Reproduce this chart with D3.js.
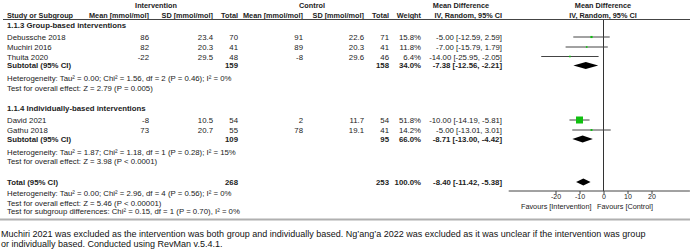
<!DOCTYPE html>
<html>
<head>
<meta charset="utf-8">
<script src="https://cdn.jsdelivr.net/npm/d3@7"></script>
<style>
  body { margin: 0; background: #fff; }
  svg { font-family: "Liberation Sans", Arial, sans-serif; }
</style>
</head>
<body>
<div id="chart"></div>
<script>
// --- Données ---
const studies = ["Debussche 2018", "Muchiri 2016", "Thuita 2020", "David 2021", "Gathu 2018"];
const studyGroup = [0, 0, 0, 1, 1];
const intMean = [86, 82, -22, -8, 73];
const intSD = [23.4, 20.3, 29.5, 10.5, 20.7];
const intN = [70, 41, 48, 54, 55];
const ctlMean = [91, 89, -8, 2, 78];
const ctlSD = [22.6, 20.3, 29.6, 11.7, 19.1];
const ctlN = [71, 41, 46, 54, 41];
const weights = [15.8, 11.8, 6.4, 51.8, 14.2];
const md = [-5.00, -7.00, -14.00, -10.00, -5.00];
const mdLo = [-12.59, -15.79, -25.95, -14.19, -13.01];
const mdHi = [2.59, 1.79, -2.05, -5.81, 3.01];

const groupNames = ["1.1.3 Group-based interventions", "1.1.4 Individually-based interventions"];
const subIntN = [159, 109];
const subCtlN = [158, 95];
const subWeight = [34.0, 66.0];
const subMd = [-7.38, -8.71];
const subLo = [-12.56, -13.00];
const subHi = [-2.21, -4.42];
const subHet = [
  "Heterogeneity: Tau\u00b2 = 0.00; Chi\u00b2 = 1.56, df = 2 (P = 0.46); I\u00b2 = 0%",
  "Heterogeneity: Tau\u00b2 = 1.87; Chi\u00b2 = 1.18, df = 1 (P = 0.28); I\u00b2 = 15%"
];
const subTest = ["Test for overall effect: Z = 2.79 (P = 0.005)", "Test for overall effect: Z = 3.98 (P < 0.0001)"];

const total = { intN: 268, ctlN: 253, md: -8.40, lo: -11.42, hi: -5.38 };
const totalNotes = [
  "Heterogeneity: Tau\u00b2 = 0.00; Chi\u00b2 = 2.96, df = 4 (P = 0.56); I\u00b2 = 0%",
  "Test for overall effect: Z = 5.46 (P < 0.00001)",
  "Test for subgroup differences: Chi\u00b2 = 0.15, df = 1 (P = 0.70), I\u00b2 = 0%"
];
const tickValues = [-20, -10, 0, 10, 20];
const footnote = [
  "Muchiri 2021 was excluded as the intervention was both group and individually based. Ng\u2019ang\u2019a 2022 was excluded as it was unclear if the intervention was group",
  "or individually based. Conducted using RevMan v.5.4.1."
];

// --- SVG ---
const width = 690, height = 249;
const fs = 7.8;
const svg = d3.select("#chart").append("svg")
  .attr("width", width).attr("height", height);

const fmt2 = d3.format(".2f");
const num = v => fmt2(v).replace("\u2212", "-");
const ciText = (m, l, h) => `${num(m)} [${num(l)}, ${num(h)}]`;

// colonnes (bord droit)
const col = { study: 7, iMean: 149, iSD: 213, iN: 238, cMean: 303, cSD: 364, cN: 389, w: 421, ci: 502 };

function txt(x, y, s, opts = {}) {
  return svg.append("text")
    .attr("x", x).attr("y", y)
    .attr("font-size", opts.size || fs)
    .attr("font-weight", opts.bold ? "bold" : "normal")
    .attr("text-anchor", opts.anchor || "end")
    .attr("fill", opts.fill || "#222")
    .text(s);
}

// --- En-têtes ---
const hs = 7.3;
txt(156, 8, "Intervention", { bold: true, anchor: "middle", size: hs });
txt(312, 8, "Control", { bold: true, anchor: "middle", size: hs });
txt(461, 8, "Mean Difference", { bold: true, anchor: "middle", size: hs });
txt(603, 8, "Mean Difference", { bold: true, anchor: "middle", size: hs });
txt(col.study, 17.5, "Study or Subgroup", { bold: true, anchor: "start", size: hs });
txt(col.iMean, 17.5, "Mean [mmol/mol]", { bold: true, size: hs });
txt(col.iSD, 17.5, "SD [mmol/mol]", { bold: true, size: hs });
txt(col.iN, 17.5, "Total", { bold: true, size: hs });
txt(col.cMean, 17.5, "Mean [mmol/mol]", { bold: true, size: hs });
txt(col.cSD, 17.5, "SD [mmol/mol]", { bold: true, size: hs });
txt(col.cN, 17.5, "Total", { bold: true, size: hs });
txt(col.w, 17.5, "Weight", { bold: true, size: hs });
txt(col.ci, 17.5, "IV, Random, 95% CI", { bold: true, size: hs });
txt(603, 17.5, "IV, Random, 95% CI", { bold: true, anchor: "middle", size: hs });

svg.append("line").attr("x1", 3).attr("x2", width).attr("y1", 19.5).attr("y2", 19.5)
  .attr("stroke", "#444").attr("stroke-width", 1);

// --- Echelle ---
const x = d3.scaleLinear().domain([-20, 20]).range([555.5, 651.5]);
const axisY = 191;

// ligne zéro
svg.append("line")
  .attr("x1", x(0)).attr("x2", x(0)).attr("y1", 20).attr("y2", axisY)
  .attr("stroke", "#333").attr("stroke-width", 1);

// positions des lignes
const groupLayout = [
  { head: 27.5, rows: [40, 50, 59.5], sub: 68, het: 80.5, test: 91 },
  { head: 111, rows: [123, 133], sub: 141.5, het: 154.5, test: 164 }
];

function diamond(m, l, h, yc, hh) {
  svg.append("path")
    .attr("d", `M${x(l)},${yc} L${x(m)},${yc - hh} L${x(h)},${yc} L${x(m)},${yc + hh} Z`)
    .attr("fill", "#000");
}

const maxW = d3.max(weights);
groupLayout.forEach((g, gi) => {
  txt(col.study, g.head, groupNames[gi], { bold: true, anchor: "start" });
  const idx = studies.map((s, i) => i).filter(i => studyGroup[i] === gi);
  idx.forEach((i, k) => {
    const y = g.rows[k];
    txt(col.study, y, studies[i], { anchor: "start" });
    txt(col.iMean, y, intMean[i]);
    txt(col.iSD, y, intSD[i].toFixed(1));
    txt(col.iN, y, intN[i]);
    txt(col.cMean, y, ctlMean[i]);
    txt(col.cSD, y, ctlSD[i].toFixed(1));
    txt(col.cN, y, ctlN[i]);
    txt(col.w, y, weights[i].toFixed(1) + "%");
    txt(col.ci, y, ciText(md[i], mdLo[i], mdHi[i]));

    const yc = y - 3;
    svg.append("line")
      .attr("x1", x(mdLo[i])).attr("x2", x(mdHi[i]))
      .attr("y1", yc).attr("y2", yc)
      .attr("stroke", "#444").attr("stroke-width", 1);
    const s = Math.max(1.6, 7 * weights[i] / maxW);
    svg.append("rect")
      .attr("x", x(md[i]) - s / 2).attr("y", yc - s / 2)
      .attr("width", s).attr("height", s)
      .attr("fill", "#10c010");
  });
  txt(col.study, g.sub, "Subtotal (95% CI)", { bold: true, anchor: "start" });
  txt(col.iN, g.sub, subIntN[gi], { bold: true });
  txt(col.cN, g.sub, subCtlN[gi], { bold: true });
  txt(col.w, g.sub, subWeight[gi].toFixed(1) + "%", { bold: true });
  txt(col.ci, g.sub, ciText(subMd[gi], subLo[gi], subHi[gi]), { bold: true });
  diamond(subMd[gi], subLo[gi], subHi[gi], g.sub - 2.5, 3.5);
  txt(col.study, g.het, subHet[gi], { anchor: "start" });
  txt(col.study, g.test, subTest[gi], { anchor: "start" });
});

// --- Total ---
const totY = 185;
txt(col.study, totY, "Total (95% CI)", { bold: true, anchor: "start" });
txt(col.iN, totY, total.intN, { bold: true });
txt(col.cN, totY, total.ctlN, { bold: true });
txt(col.w, totY, "100.0%", { bold: true });
txt(col.ci, totY, ciText(total.md, total.lo, total.hi), { bold: true });
diamond(total.md, total.lo, total.hi, totY - 3, 3.5);
[196, 205.5, 214].forEach((y, i) => txt(col.study, y, totalNotes[i], { anchor: "start" }));

// --- Axe ---
svg.append("line")
  .attr("x1", x(-39.5)).attr("x2", x(36)).attr("y1", axisY).attr("y2", axisY)
  .attr("stroke", "#444").attr("stroke-width", 1);
const axis = svg.append("g")
  .attr("transform", `translate(0,${axisY})`)
  .call(d3.axisBottom(x).tickValues(tickValues).tickFormat(d => String(d)).tickSize(3).tickPadding(0));
axis.select(".domain").remove();
axis.selectAll("line").attr("stroke", "#444");
axis.selectAll("text").attr("font-size", 7).attr("font-family", "Liberation Sans, Arial, sans-serif").attr("fill", "#222");

txt(591.5, 208.5, "Favours [Intervention]", { anchor: "end", size: 7.3 });
txt(597, 208.5, "Favours [Control]", { anchor: "start", size: 7.3 });

// séparateur
svg.append("line").attr("x1", 0).attr("x2", width).attr("y1", 219.5).attr("y2", 219.5)
  .attr("stroke", "#b0b0b0").attr("stroke-width", 2);

// --- Note ---
footnote.forEach((s, i) => txt(1, 237 + i * 10, s, { anchor: "start", size: 9, fill: "#111" }));
</script>
</body>
</html>
